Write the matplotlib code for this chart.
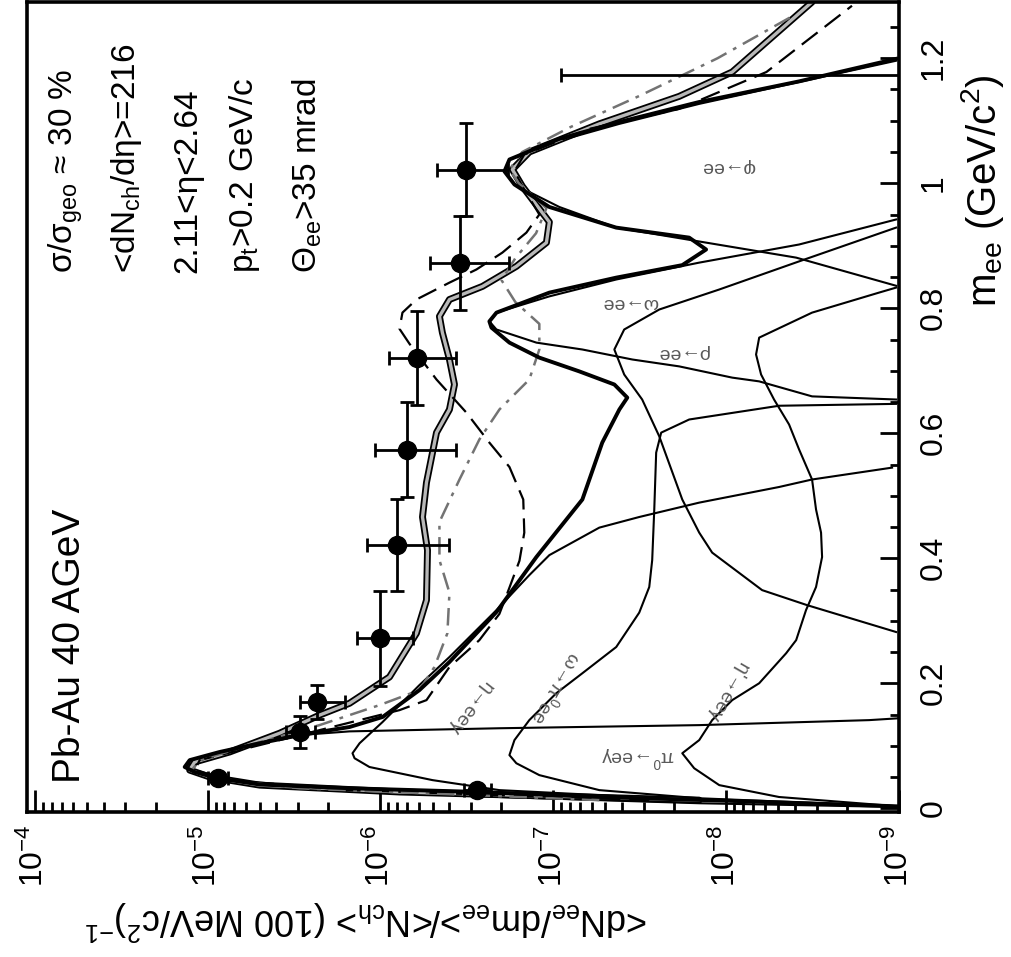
import numpy as np
import matplotlib.pyplot as plt
from matplotlib.ticker import FixedLocator, LogLocator, MultipleLocator, FuncFormatter, NullFormatter

plt.rcParams['font.family'] = ['Liberation Sans', 'DejaVu Sans']
plt.rcParams['mathtext.fontset'] = 'custom'
plt.rcParams['mathtext.rm'] = 'Liberation Sans'
plt.rcParams['mathtext.it'] = 'Liberation Sans'
plt.rcParams['mathtext.sf'] = 'Liberation Sans'

# ---- data points (m_ee, dN/dm) ----
pt_m = [0.029, 0.048, 0.122, 0.170, 0.272, 0.421, 0.574, 0.721, 0.873, 1.022]
pt_v = [2.75e-7, 8.75e-6, 2.94e-6, 2.34e-6, 1.01e-6, 7.98e-7, 6.98e-7, 6.19e-7, 3.49e-7, 3.19e-7]
pt_hi = [3.3e-7, 1.0e-5, 3.5e-6, 2.94e-6, 1.36e-6, 1.19e-6, 1.07e-6, 8.9e-7, 5.2e-7, 4.7e-7]
pt_lo = [2.3e-7, 7.6e-6, 2.4e-6, 1.61e-6, 6.5e-7, 4.0e-7, 3.64e-7, 3.68e-7, 1.8e-7, 1.82e-7]
pt_dm = [0.008, 0.008, 0.026, 0.027, 0.076, 0.074, 0.076, 0.075, 0.075, 0.075]
# last bin: only the upper part of its error bar is inside the frame
lim_m = 1.173
lim_v = 5e-10
lim_hi = 9.0e-8

# ---- curves: m_ee and log10(dN/dm) ----
total_m = [0.003, 0.011, 0.018, 0.026, 0.032, 0.038, 0.048, 0.058, 0.066, 0.077, 0.090, 0.104,
           0.117, 0.130, 0.146, 0.189, 0.234, 0.314, 0.402, 0.494, 0.585, 0.638, 0.657, 0.678,
           0.699, 0.721, 0.745, 0.769, 0.779, 0.793, 0.825, 0.849, 0.869, 0.894, 0.913, 0.929,
           0.962, 0.998, 1.019, 1.038, 1.071, 1.098, 1.130, 1.163, 1.199]
total_lg = [-9.0, -8.133, -7.266, -6.572, -5.821, -5.301, -5.058, -4.925, -4.867, -4.896, -5.069,
            -5.301, -5.532, -5.821, -6.012, -6.225, -6.399, -6.671, -6.902, -7.168, -7.283, -7.382,
            -7.428, -7.353, -7.150, -6.919, -6.746, -6.642, -6.630, -6.671, -6.977, -7.364, -7.746,
            -7.884, -7.786, -7.364, -6.977, -6.775, -6.717, -6.746, -7.035, -7.382, -7.844, -8.422,
            -8.983]

pi0_m = [0.002, 0.008, 0.018, 0.029, 0.037, 0.048, 0.061, 0.067, 0.080, 0.096, 0.115, 0.123,
         0.128, 0.133, 0.141, 0.144]
pi0_lg = [-9.0, -7.844, -6.688, -5.821, -5.301, -5.012, -4.896, -4.873, -4.954, -5.185, -5.434,
          -5.821, -6.688, -7.844, -8.827, -9.0]

eta_m = [0.003, 0.013, 0.029, 0.045, 0.066, 0.080, 0.088, 0.104, 0.138, 0.197, 0.242, 0.317,
         0.373, 0.405, 0.449, 0.466, 0.489, 0.514, 0.526, 0.545]
eta_lg = [-9.0, -7.844, -6.688, -6.301, -5.936, -5.850, -5.838, -5.879, -6.012, -6.225, -6.399,
          -6.671, -6.861, -6.977, -7.266, -7.497, -7.844, -8.306, -8.497, -8.960]

omd_m = [0.003, 0.016, 0.029, 0.053, 0.072, 0.085, 0.109, 0.141, 0.184, 0.216, 0.258, 0.313,
         0.354, 0.397, 0.478, 0.569, 0.601, 0.622, 0.644, 0.647]
omd_lg = [-9.0, -7.844, -7.266, -6.919, -6.786, -6.746, -6.775, -6.861, -7.017, -7.168, -7.364,
          -7.497, -7.555, -7.572, -7.584, -7.595, -7.624, -7.786, -8.306, -8.983]

etap_m = [0.003, 0.018, 0.037, 0.064, 0.088, 0.109, 0.141, 0.173, 0.200, 0.248, 0.269, 0.317,
          0.354, 0.402, 0.441, 0.478, 0.526, 0.574, 0.614, 0.654, 0.694, 0.726, 0.753, 0.793,
          0.825, 0.833]
etap_lg = [-9.0, -8.306, -7.960, -7.815, -7.746, -7.844, -7.919, -8.035, -8.191, -8.347, -8.405,
           -8.462, -8.520, -8.555, -8.549, -8.520, -8.497, -8.422, -8.364, -8.277, -8.202,
           -8.173, -8.191, -8.497, -8.884, -8.983]

rho_m = [0.282, 0.325, 0.349, 0.409, 0.441, 0.494, 0.595, 0.654, 0.694, 0.734, 0.766, 0.798,
         0.830, 0.875, 0.929]
rho_lg = [-8.983, -8.468, -8.208, -7.919, -7.844, -7.746, -7.613, -7.514, -7.410, -7.353,
          -7.410, -7.613, -7.960, -8.422, -8.983]

omg_m = [0.654, 0.659, 0.683, 0.689, 0.707, 0.718, 0.734, 0.745, 0.766, 0.779, 0.793, 0.819,
         0.846, 0.873, 0.902, 0.942]
omg_lg = [-8.983, -8.497, -8.191, -8.035, -7.728, -7.457, -7.168, -6.902, -6.671, -6.630, -6.671,
          -6.977, -7.364, -7.844, -8.422, -8.983]

phi_m = [0.836, 0.881, 0.905, 0.929, 0.962, 0.998, 1.019, 1.038, 1.068, 1.095, 1.127, 1.162, 1.196]
phi_lg = [-8.983, -8.405, -7.884, -7.364, -7.035, -6.775, -6.717, -6.746, -7.035, -7.382,
          -7.844, -8.422, -8.983]

# model curves
modA_m = [0.013, 0.026, 0.037, 0.050, 0.061, 0.074, 0.090, 0.120, 0.149, 0.168, 0.210, 0.280,
          0.333, 0.413, 0.466, 0.521, 0.601, 0.638, 0.678, 0.718, 0.761, 0.787, 0.814, 0.835,
          0.867, 0.905, 0.938, 0.995, 1.022, 1.050, 1.095, 1.139, 1.178, 1.290]
modA_lg = [-7.844, -6.110, -5.301, -5.012, -4.896, -4.925, -5.127, -5.416, -5.647, -5.821,
           -6.052, -6.208, -6.266, -6.272, -6.243, -6.266, -6.324, -6.399, -6.428, -6.399,
           -6.358, -6.341, -6.399, -6.590, -6.786, -6.960, -6.977, -6.821, -6.763, -6.861,
           -7.266, -7.728, -8.035, -8.497]

modB_m = [0.013, 0.029, 0.045, 0.061, 0.077, 0.093, 0.117, 0.141, 0.157, 0.173, 0.226, 0.269,
          0.311, 0.353, 0.396, 0.441, 0.494, 0.546, 0.585, 0.633, 0.686, 0.743, 0.767, 0.793,
          0.814, 0.841, 0.862, 0.889, 0.921, 0.950, 0.990, 1.019, 1.046, 1.087, 1.119, 1.178,
          1.284]
modB_lg = [-7.555, -5.821, -5.127, -4.925, -4.954, -5.185, -5.532, -5.879, -6.110, -6.266,
           -6.399, -6.572, -6.688, -6.746, -6.804, -6.832, -6.826, -6.746, -6.630, -6.497,
           -6.324, -6.168, -6.110, -6.127, -6.208, -6.399, -6.555, -6.705, -6.844, -6.919,
           -6.832, -6.775, -6.832, -7.208, -7.728, -8.233, -8.728]

modC_m = [0.013, 0.032, 0.048, 0.061, 0.077, 0.101, 0.133, 0.165, 0.189, 0.226, 0.280, 0.345,
          0.397, 0.458, 0.526, 0.590, 0.638, 0.686, 0.734, 0.775, 0.810, 0.845, 0.880, 0.920,
          0.960, 1.000, 1.022, 1.050, 1.090, 1.140, 1.200, 1.270]
modC_lg = [-7.266, -5.532, -5.012, -4.908, -4.954, -5.243, -5.647, -5.994, -6.225, -6.312,
           -6.387, -6.399, -6.341, -6.341, -6.457, -6.572, -6.688, -6.861, -6.919, -6.919,
           -6.780, -6.700, -6.780, -6.900, -6.960, -6.800, -6.746, -6.820, -7.100, -7.500,
           -7.950, -8.400]

decades = [1e-4, 1e-5, 1e-6, 1e-7, 1e-8, 1e-9]
mass_ticks = [0, 0.2, 0.4, 0.6, 0.8, 1.0, 1.2]

fig = plt.figure(figsize=(10.12, 9.57), dpi=100)
ax = fig.add_axes([27 / 1012, 1 - 812 / 957, 872 / 1012, 810 / 957])


def curve(m, lg, **kw):
    ax.plot(10.0 ** np.array(lg), m, **kw)


for m, lg in [(pi0_m, pi0_lg), (eta_m, eta_lg), (omd_m, omd_lg), (etap_m, etap_lg),
              (rho_m, rho_lg), (omg_m, omg_lg), (phi_m, phi_lg)]:
    curve(m, lg, color='black', lw=1.5)

curve(modA_m, modA_lg, color='black', lw=5.0, solid_capstyle='round')
curve(modA_m, modA_lg, color='0.72', lw=2.4, solid_capstyle='round')
curve(modB_m, modB_lg, color='black', lw=1.6, dashes=(9, 4))
curve(modC_m, modC_lg, color='0.45', lw=1.8, dashes=(7, 3, 1.5, 3))
curve(total_m, total_lg, color='black', lw=2.8)

ax.errorbar(pt_v, pt_m,
            xerr=[np.array(pt_v) - np.array(pt_lo), np.array(pt_hi) - np.array(pt_v)],
            yerr=pt_dm, fmt='o', color='black', ms=13, elinewidth=2.0, capsize=5,
            capthick=2.0, zorder=5)
ax.errorbar([lim_v], [lim_m], xerr=[[0], [lim_hi - lim_v]], fmt='o', color='black', ms=13,
            elinewidth=2.0, capsize=5, capthick=2.0, zorder=5)

ax.set_xscale('log')
ax.set_xlim(1.11e-4, 1e-9)
ax.set_ylim(-0.006, 1.29)

ax.xaxis.set_major_locator(FixedLocator(decades))
ax.xaxis.set_major_formatter(FuncFormatter(
    lambda v, p: r'$10^{%d}$' % int(round(np.log10(v)))))
ax.xaxis.set_minor_locator(LogLocator(base=10, subs=np.arange(2, 10), numticks=50))
ax.xaxis.set_minor_formatter(NullFormatter())
ax.yaxis.set_major_locator(FixedLocator(mass_ticks))
ax.yaxis.set_minor_locator(MultipleLocator(0.05))
ax.yaxis.set_major_formatter(FuncFormatter(lambda v, p: '%g' % round(v, 2)))
ax.yaxis.tick_right()

ax.tick_params(axis='x', which='both', direction='in', top=False, bottom=True,
               labelrotation=90, labelsize=23, pad=9)
ax.tick_params(axis='x', which='major', length=16, width=2)
ax.tick_params(axis='x', which='minor', length=7, width=2)
ax.tick_params(axis='y', which='both', direction='in', left=False, right=True,
               labelrotation=90, labelsize=23, pad=14)
ax.tick_params(axis='y', which='major', length=14, width=2)
ax.tick_params(axis='y', which='minor', length=6.5, width=2)
for lab in ax.get_yticklabels():
    lab.set_va('center')
for s in ax.spines.values():
    s.set_linewidth(2.6)


def px(x, y):
    return x / 1012, 1 - y / 957


# axis titles (rotated with the figure)
fig.text(*px(983, 191), r'm$_{\mathrm{ee}}$ (GeV/c$^{2}$)', rotation=90, fontsize=29,
         ha='center', va='center')
fig.text(*px(366, 920),
         r'<dN$_{\mathrm{ee}}$/dm$_{\mathrm{ee}}$>/<N$_{\mathrm{ch}}$> (100 MeV/c$^{2}$)$^{-1}$',
         rotation=180, fontsize=26, ha='center', va='center')

# annotations
fig.text(*px(70, 783), 'Pb-Au 40 AGeV', rotation=90, rotation_mode='anchor', fontsize=28,
         ha='left', va='center')
notes = [(66, 'σ/σ$_{\\mathrm{geo}}$ ≈ 30 %'),
         (127, '<dN$_{\\mathrm{ch}}$/dη>=216'),
         (188, '2.11<η<2.64'),
         (245, 'p$_{\\mathrm{t}}$>0.2 GeV/c'),
         (307, 'Θ$_{\\mathrm{ee}}$>35 mrad')]
for x, t in notes:
    fig.text(*px(x, 273), t, rotation=90, rotation_mode='anchor', fontsize=24,
             ha='left', va='center')

labels = [(728, 167, 'φ→ee', 180),
          (630, 303, 'ω→ee', 180),
          (683, 352, 'ρ→ee', 180),
          (638, 757, 'π$^{0}$→eeγ', 180),
          (470, 708, 'η→eeγ', 232),
          (557, 688, 'ω→π$^{0}$ee', 240),
          (727, 692, "η'→eeγ", 240)]
for x, y, t, r in labels:
    fig.text(*px(x, y), t, rotation=r, fontsize=14, color='0.35', ha='center', va='center')

fig.savefig('out.png', dpi=100)
